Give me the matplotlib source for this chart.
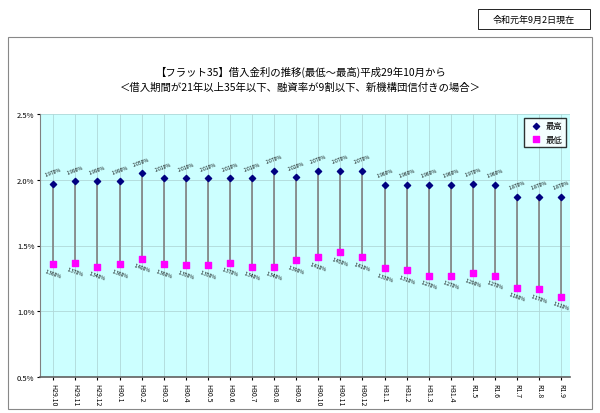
import matplotlib.pyplot as plt
from matplotlib.patches import Rectangle

plt.rcParams['font.family'] = ['Noto Sans CJK JP']

months = ["H29.10", "H29.11", "H29.12",
          "H30.1", "H30.2", "H30.3", "H30.4", "H30.5", "H30.6",
          "H30.7", "H30.8", "H30.9", "H30.10", "H30.11", "H30.12",
          "H31.1", "H31.2", "H31.3", "H31.4",
          "R1.5", "R1.6", "R1.7", "R1.8", "R1.9"]
high = [1.97, 1.99, 1.99, 1.99, 2.05, 2.01, 2.01, 2.01, 2.01, 2.01, 2.07, 2.02,
        2.07, 2.07, 2.07, 1.96, 1.96, 1.96, 1.96, 1.97, 1.96, 1.87, 1.87, 1.87]
low = [1.36, 1.37, 1.34, 1.36, 1.40, 1.36, 1.35, 1.35, 1.37, 1.34, 1.34, 1.39,
       1.41, 1.45, 1.41, 1.33, 1.31, 1.27, 1.27, 1.29, 1.27, 1.18, 1.17, 1.11]

fig = plt.figure(figsize=(6.0, 4.14), dpi=100)
fig.patch.set_facecolor('white')

# outer frame and date box
fig.patches.append(Rectangle((8/600, 4/414), 584/600, 372/414, transform=fig.transFigure,
                             fill=False, edgecolor='#888888', lw=0.8))
fig.patches.append(Rectangle((478/600, 384/414), 112/600, 20/414, transform=fig.transFigure,
                             fill=False, edgecolor='black', lw=0.6))
fig.text(534/600, 394/414, "令和元年9月2日現在", ha='center', va='center', fontsize=6.5)
fig.text(0.5, 342/414, "【フラット35】借入金利の推移(最低～最高)平成29年10月から",
         ha='center', va='center', fontsize=7.5)
fig.text(0.5, 326/414, "＜借入期間が21年以上35年以下、融資率が9割以下、新機構団信付きの場合＞",
         ha='center', va='center', fontsize=7.5)

ax = fig.add_axes([40/600, 36/414, 530/600, 263/414])
ax.set_facecolor('#CCFFFF')
x = list(range(len(months)))
ax.vlines(x, low, high, colors='#808080', lw=1.2, zorder=2)
ax.scatter(x, high, marker='D', s=10, color='#000080', zorder=3, label='最高')
ax.scatter(x, low, marker='s', s=22, color='#FF00FF', zorder=3, label='最低')
for i in x:
    ax.text(i, high[i] + 0.05, f"{high[i]:.3f}%", fontsize=3.5, ha='center', va='bottom', rotation=20)
    ax.text(i, low[i] - 0.03, f"{low[i]:.3f}%", fontsize=3.5, ha='center', va='top', rotation=-20)

ax.set_xlim(-0.6, len(months) - 0.6)
ax.set_ylim(0.5, 2.5)
ax.set_yticks([0.5, 1.0, 1.5, 2.0, 2.5])
ax.set_yticklabels(["0.5%", "1.0%", "1.5%", "2.0%", "2.5%"], fontsize=5.5)
ax.set_xticks(x)
ax.set_xticklabels(months, rotation=-90, fontsize=5)
ax.grid(True, color='#B0D8D8', lw=0.6)
ax.set_axisbelow(True)
for s in ['top', 'right']:
    ax.spines[s].set_visible(False)
ax.spines['left'].set_color('#808080')
ax.spines['bottom'].set_color('#606060')
ax.spines['bottom'].set_linewidth(1.2)
ax.tick_params(length=2, pad=2)
ax.legend(loc='upper right', fontsize=6, frameon=True, fancybox=False,
          edgecolor='black', facecolor='white', handletextpad=0.2, borderpad=0.4)

fig.savefig('out.png', dpi=100)
